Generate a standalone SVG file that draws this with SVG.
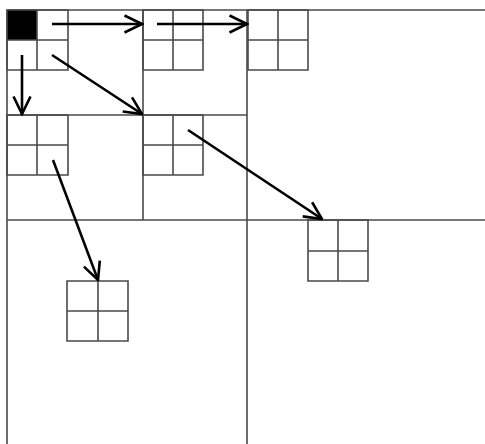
<svg xmlns="http://www.w3.org/2000/svg" width="485" height="444" viewBox="0 0 485 444">
  <style>
    .grid { stroke: #4a4a4a; stroke-width: 1.6; fill: none; }
    .blk { stroke: #4a4a4a; stroke-width: 1.6; fill: none; }
    .arr { stroke: #000; stroke-width: 2.6; fill: none; marker-end: url(#head); }
  </style>
  <defs>
    <marker id="head" viewBox="0 0 20 20" refX="18.5" refY="10" markerWidth="20" markerHeight="20" markerUnits="userSpaceOnUse" orient="auto">
      <path d="M1,1.5 L18.5,10 L1,18.5" fill="none" stroke="#000" stroke-width="2.6"/>
    </marker>
  </defs>
  <rect width="485" height="444" fill="#fff"/>
  <g id="grid">
    <line class="grid" x1="7" y1="10" x2="485" y2="10"/>
    <line class="grid" x1="7" y1="10" x2="7" y2="444"/>
    <line class="grid" x1="247" y1="10" x2="247" y2="444"/>
    <line class="grid" x1="7" y1="220" x2="485" y2="220"/>
    <line class="grid" x1="143" y1="10" x2="143" y2="220"/>
    <line class="grid" x1="7" y1="115" x2="247" y2="115"/>
  </g>
  <g id="block-a">
    <rect x="7" y="10" width="30" height="30" fill="#000"/>
    <path class="blk" d="M7,10 H68 V70 H7 Z M37,10 V70 M7,40 H68"/>
  </g>
  <g id="block-b">
    <path class="blk" d="M143,10 H203 V70 H143 Z M173,10 V70 M143,40 H203"/>
  </g>
  <g id="block-c">
    <path class="blk" d="M248,10 H308 V70 H248 Z M278,10 V70 M248,40 H308"/>
  </g>
  <g id="block-d">
    <path class="blk" d="M7,115 H68 V175 H7 Z M37,115 V175 M7,145 H68"/>
  </g>
  <g id="block-e">
    <path class="blk" d="M143,115 H203 V175 H143 Z M173,115 V175 M143,145 H203"/>
  </g>
  <g id="block-f">
    <path class="blk" d="M308,220 H368 V281 H308 Z M338,220 V281 M308,251 H368"/>
  </g>
  <g id="block-g">
    <path class="blk" d="M67,281 H128 V341 H67 Z M98,281 V341 M67,311 H128"/>
  </g>
  <g id="connectors">
    <line class="arr" x1="52" y1="24" x2="142" y2="24"/>
    <line class="arr" x1="157" y1="24" x2="247" y2="24"/>
    <line class="arr" x1="22" y1="55" x2="22" y2="114"/>
    <line class="arr" x1="52" y1="55" x2="142" y2="114"/>
    <line class="arr" x1="188" y1="130" x2="322" y2="219"/>
    <line class="arr" x1="53" y1="160" x2="98" y2="280"/>
  </g>
</svg>
